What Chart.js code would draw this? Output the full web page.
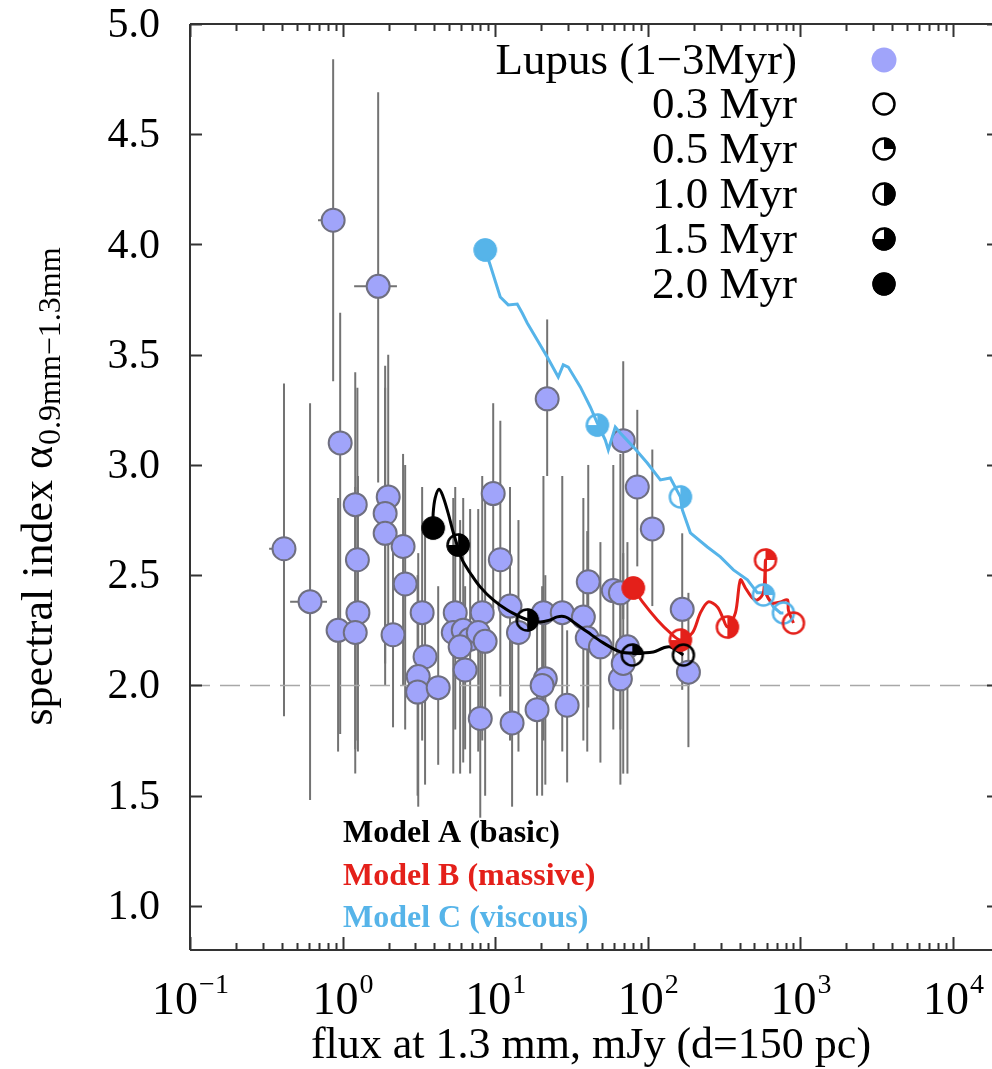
<!DOCTYPE html>
<html>
<head>
<meta charset="utf-8">
<script src="https://cdn.jsdelivr.net/npm/chart.js@4.4.1/dist/chart.umd.min.js"></script>
<style>
  html, body { margin: 0; padding: 0; background: #fff; }
  canvas { display: block; }
</style>
</head>
<body>
<canvas id="myChart" width="992" height="1069"></canvas>
<script>
'use strict';

// Lupus sample (1-3 Myr): flux at 1.3 mm in mJy, spectral index and error bar ends
let lupusFlux = [0.413, 0.612, 0.867, 1.71, 0.964, 1.21, 1.25, 1.26, 0.934, 1.21,
  1.99, 1.90, 1.90, 2.49, 2.57, 2.14, 3.32, 3.47, 3.13, 3.10,
  4.23, 5.47, 8.22, 5.31, 6.17, 6.85, 7.74, 8.59, 5.89, 6.35,
  10.8, 9.70, 7.98, 12.9, 12.5, 14.2, 20.7, 27.5, 21.3, 20.3,
  18.8, 29.6, 37.8, 40.7, 40.1, 48.9, 21.9, 69.0, 85.3, 107,
  168, 184.5, 59.4, 66.1, 66.1, 73.5, 69.0];
let lupusAlpha = [2.62, 2.38, 4.11, 3.81, 3.10, 2.82, 2.57, 2.33, 2.25, 2.24,
  2.855, 2.78, 2.69, 2.63, 2.46, 2.23, 2.33, 2.13, 2.04, 1.97,
  1.99, 2.33, 2.33, 2.24, 2.25, 2.21, 2.24, 2.20, 2.175, 2.07,
  2.57, 2.87, 1.85, 1.83, 2.36, 2.24, 2.33, 2.33, 2.03, 2.00,
  1.89, 1.91, 2.31, 2.47, 2.215, 2.175, 3.30, 3.11, 2.90, 2.71,
  2.345, 2.06, 2.43, 2.42, 2.03, 2.175, 2.10];
let lupusAlphaLo = [1.86, 1.48, 3.38, 2.92, 1.78, 1.71, 1.75, 1.70, 1.70, 1.60,
  2.20, 2.10, 2.00, 2.00, 1.80, 1.81, 1.75, 1.55, 1.45, 1.50,
  1.64, 1.80, 1.75, 1.60, 1.65, 1.60, 1.70, 1.50, 1.60, 1.71,
  1.95, 2.35, 1.40, 1.45, 1.75, 1.70, 1.75, 1.70, 1.55, 1.50,
  1.50, 1.56, 1.75, 1.90, 1.70, 1.65, 2.95, 2.30, 2.54, 2.36,
  1.98, 1.72, 1.80, 1.80, 1.55, 1.60, 1.60];
let lupusAlphaHi = [3.37, 3.28, 4.84, 4.69, 3.69, 3.42, 3.35, 2.95, 2.85, 2.90,
  3.50, 3.45, 3.35, 3.05, 3.00, 2.70, 2.90, 2.70, 2.60, 2.50,
  2.45, 2.90, 2.95, 2.85, 2.85, 2.80, 2.80, 2.90, 2.75, 2.45,
  3.20, 3.28, 2.30, 2.25, 2.90, 2.75, 2.95, 2.95, 2.50, 2.45,
  2.30, 2.25, 2.85, 3.00, 2.70, 2.65, 3.66, 3.47, 3.25, 3.07,
  2.69, 2.42, 3.00, 3.05, 2.45, 2.65, 2.60];
// horizontal error bars (only a few sources have visible ones)
let lupusFluxLo = { 0: 0.33, 1: 0.453, 2: 0.69, 3: 1.19 };
let lupusFluxHi = { 0: 0.413, 1: 0.79, 2: 0.867, 3: 2.27 };

// model tracks
let modelAFlux = [3.92, 3.92, 4.04, 4.29, 4.56, 4.92, 5.30, 5.63, 6.08, 6.86, 7.97, 9.70, 12.0, 14.6, 16.5,
  19.7, 22.9, 25.5, 28.8, 32.5, 40.1, 51.1, 66.0, 80.3, 108.7, 126, 140, 171];
let modelAAlpha = [2.72, 2.78, 2.85, 2.89, 2.855, 2.78, 2.696, 2.637, 2.569, 2.51, 2.447, 2.388, 2.342, 2.311, 2.297,
  2.288, 2.297, 2.311, 2.311, 2.288, 2.243, 2.193, 2.152, 2.147, 2.152, 2.17, 2.175, 2.138];

let modelBFlux = [80.3, 93.4, 115.4, 140.4, 163.4, 195.8, 221, 249, 285.6, 308, 332, 375, 404, 436, 484, 523,
  572, 590, 595, 655, 739, 822, 834, 900];
let modelBAlpha = [2.442, 2.374, 2.297, 2.238, 2.206, 2.238, 2.329, 2.379, 2.356, 2.311, 2.265, 2.329, 2.479, 2.442, 2.397, 2.388,
  2.42, 2.569, 2.42, 2.374, 2.379, 2.388, 2.342, 2.283];

let modelCFlux = [8.60, 9.27, 10.79, 12.17, 13.94, 15.03, 16.21, 18.86, 21.93, 25.88, 27.92, 30.11, 36.09, 41.98, 46.67,
  52.64, 55.08, 61.2, 66.0, 80.3, 99.2, 120.8, 140.4, 163.4, 168.4, 190, 245.6, 298.8, 363.7, 449.3,
  522.4, 589.6, 665.3, 739.4, 773.5];
let modelCAlpha = [3.975, 3.907, 3.762, 3.726, 3.730, 3.689, 3.644, 3.567, 3.49, 3.399, 3.454, 3.444, 3.354, 3.263, 3.19,
  3.113, 3.068, 3.172, 3.145, 3.082, 3.009, 2.932, 2.941, 2.855, 2.796, 2.692, 2.628, 2.583, 2.524, 2.479,
  2.42, 2.42, 2.356, 2.329, 2.329];

// snapshots at 0.3, 0.5, 1.0, 1.5, 2.0 Myr
let ages = ['0.3 Myr', '0.5 Myr', '1.0 Myr', '1.5 Myr', '2.0 Myr'];
let ageFill = [0, 0.25, 0.5, 0.75, 1];
let modelAAgeFlux = [171, 79.1, 16.2, 5.71, 3.92];
let modelAAgeAlpha = [2.138, 2.138, 2.297, 2.637, 2.714];
let modelBAgeFlux = [900, 590, 332, 163.4, 80.3];
let modelBAgeAlpha = [2.283, 2.569, 2.265, 2.206, 2.442];
let modelCAgeFlux = [773.5, 572, 163.4, 46.67, 8.60];
let modelCAgeAlpha = [2.329, 2.410, 2.855, 3.181, 3.975];

let xTickPowers = [-1, 0, 1, 2, 3, 4];
let yTickValues = [1.0, 1.5, 2.0, 2.5, 3.0, 3.5, 4.0, 4.5, 5.0];

const black = '#000000';
const red = '#e4201a';
const cyan = '#56b4e9';
const lupusColor = '#a0a4fa';
const serif = '"Liberation Serif", "Times New Roman", serif';

function points(xs, ys) {
  let out = [];
  for (let i = 0; i < xs.length; i++) {
    out.push({ x: xs[i], y: ys[i] });
  }
  return out;
}

function makeMarker(color, fill) {
  let c = document.createElement('canvas');
  c.width = 30;
  c.height = 30;
  let g = c.getContext('2d');
  if (fill > 0) {
    g.fillStyle = color;
    g.beginPath();
    g.moveTo(15, 15);
    g.arc(15, 15, 11.5, -Math.PI / 2, -Math.PI / 2 + fill * 2 * Math.PI);
    g.closePath();
    g.fill();
  }
  g.strokeStyle = color;
  g.lineWidth = 2.5;
  g.beginPath();
  g.arc(15, 15, 10.5, 0, 2 * Math.PI);
  g.stroke();
  return c;
}

function markerSet(color) {
  return ageFill.map(f => makeMarker(color, f));
}

const markersA = markerSet(black);
const markersB = markerSet(red);
const markersC = markerSet(cyan);

function trackDataset(xs, ys, color, width, tension) {
  return {
    data: points(xs, ys),
    showLine: true,
    borderColor: color,
    borderWidth: width,
    pointRadius: 0,
    tension: tension,
    fill: false,
    order: 2
  };
}

function ageDataset(xs, ys, markers) {
  return {
    data: points(xs, ys),
    showLine: false,
    pointStyle: markers,
    pointRadius: 12,
    order: 1
  };
}

const LUPUS = 0;

const errorBars = {
  id: 'errorBars',
  beforeDatasetDraw(chart, args) {
    if (args.index !== LUPUS) return;
    const xs = chart.scales.x;
    const ys = chart.scales.y;
    const c = chart.ctx;
    const area = chart.chartArea;
    c.save();
    c.beginPath();
    c.rect(area.left, area.top, area.right - area.left, area.bottom - area.top);
    c.clip();
    c.strokeStyle = '#737373';
    c.lineWidth = 2;
    for (let i = 0; i < lupusFlux.length; i++) {
      let px = xs.getPixelForValue(lupusFlux[i]);
      let py = ys.getPixelForValue(lupusAlpha[i]);
      c.beginPath();
      c.moveTo(px, ys.getPixelForValue(lupusAlphaLo[i]));
      c.lineTo(px, ys.getPixelForValue(lupusAlphaHi[i]));
      if (lupusFluxLo[i] !== undefined) {
        c.moveTo(xs.getPixelForValue(lupusFluxLo[i]), py);
        c.lineTo(xs.getPixelForValue(lupusFluxHi[i]), py);
      }
      c.stroke();
    }
    // reference line alpha = 2
    c.strokeStyle = '#a8a8a8';
    c.lineWidth = 1.5;
    c.setLineDash([20, 10]);
    c.beginPath();
    let y2 = ys.getPixelForValue(2.0);
    c.moveTo(area.left, y2);
    c.lineTo(area.right, y2);
    c.stroke();
    c.restore();
  }
};

const frameAndText = {
  id: 'frameAndText',
  afterDraw(chart) {
    const c = chart.ctx;
    const area = chart.chartArea;
    const xs = chart.scales.x;
    const ys = chart.scales.y;
    c.save();

    // frame
    c.strokeStyle = '#333';
    c.lineWidth = 2;
    c.beginPath();
    c.moveTo(area.left, area.top);
    c.lineTo(area.right, area.top);
    c.moveTo(area.left, area.top);
    c.lineTo(area.left, area.bottom);
    c.moveTo(area.left, area.bottom);
    c.lineTo(area.right, area.bottom);
    c.stroke();

    // x ticks, major and minor, bottom and top
    c.beginPath();
    for (let p = -1; p <= 4; p++) {
      for (let k = 1; k <= 9; k++) {
        let v = k * Math.pow(10, p);
        if (v > xs.max) break;
        let px = Math.round(xs.getPixelForValue(v)) + 0.5;
        let len = k === 1 ? 13 : 7;
        c.moveTo(px, area.bottom);
        c.lineTo(px, area.bottom - len);
        c.moveTo(px, area.top);
        c.lineTo(px, area.top + len);
      }
    }
    // y ticks, left and right
    yTickValues.forEach(v => {
      let py = Math.round(ys.getPixelForValue(v)) + 0.5;
      c.moveTo(area.left, py);
      c.lineTo(area.left + 12, py);
      c.moveTo(area.right, py);
      c.lineTo(area.right - 5, py);
    });
    c.stroke();

    c.fillStyle = '#000';

    // y tick labels
    c.font = '42px ' + serif;
    c.textAlign = 'right';
    c.textBaseline = 'middle';
    yTickValues.forEach(v => {
      c.fillText(v.toFixed(1), 160, ys.getPixelForValue(v) + 2);
    });

    // x tick labels 10^n
    c.textBaseline = 'alphabetic';
    c.textAlign = 'left';
    xTickPowers.forEach(p => {
      let px = xs.getPixelForValue(Math.pow(10, p));
      let exp = p < 0 ? '\u2212' + (-p) : String(p);
      c.font = '46px ' + serif;
      let w1 = c.measureText('10').width;
      c.font = '28px ' + serif;
      let w2 = c.measureText(exp).width;
      let sx = px - (w1 + w2) / 2;
      c.font = '46px ' + serif;
      c.fillText('10', sx, 1014);
      c.font = '28px ' + serif;
      c.fillText(exp, sx + w1 + 1, 993);
    });

    // x axis title
    c.font = '44px ' + serif;
    c.textAlign = 'center';
    c.fillText('flux at 1.3 mm, mJy (d=150 pc)', (area.left + area.right) / 2, 1058);

    // y axis title with subscript
    c.save();
    c.translate(44, (area.top + area.bottom) / 2);
    c.rotate(-Math.PI / 2);
    c.textAlign = 'left';
    c.textBaseline = 'middle';
    const mainT = 'spectral index \u03b1';
    const subT = '0.9mm\u22121.3mm';
    c.font = '44px ' + serif;
    let m1 = c.measureText(mainT).width;
    c.font = '32px ' + serif;
    let m2 = c.measureText(subT).width;
    let tx = -(m1 + m2) / 2;
    c.font = '44px ' + serif;
    c.fillText(mainT, tx, -4);
    c.font = '32px ' + serif;
    c.fillText(subT, tx + m1 + 1, 8);
    c.restore();

    // legend
    let legendLabels = ['Lupus (1\u22123Myr)'].concat(ages);
    let rowY = [60, 104, 149, 194, 239, 284];
    c.font = '45px ' + serif;
    c.textAlign = 'right';
    c.textBaseline = 'alphabetic';
    legendLabels.forEach((t, i) => {
      c.fillStyle = '#000';
      c.fillText(t, 797, rowY[i] + 14);
      if (i === 0) {
        c.fillStyle = lupusColor;
        c.beginPath();
        c.arc(884, rowY[i], 12.5, 0, 2 * Math.PI);
        c.fill();
      } else {
        c.drawImage(markersA[i - 1], 884 - 15, rowY[i] - 15);
      }
    });

    // model labels
    c.textAlign = 'left';
    c.font = 'bold 32px ' + serif;
    c.fillStyle = black;
    c.fillText('Model A (basic)', 343, 842);
    c.fillStyle = red;
    c.fillText('Model B (massive)', 343, 885);
    c.fillStyle = cyan;
    c.fillText('Model C (viscous)', 343, 927);

    c.restore();
  }
};

const ctx = document.getElementById('myChart').getContext('2d');
const myChart = new Chart(ctx, {
  type: 'scatter',
  data: {
    datasets: [
      {
        data: points(lupusFlux, lupusAlpha),
        backgroundColor: lupusColor,
        borderColor: '#6f6f80',
        borderWidth: 2,
        pointRadius: 11.5,
        order: 5
      },
      trackDataset(modelAFlux, modelAAlpha, black, 3, 0.35),
      trackDataset(modelBFlux, modelBAlpha, red, 3, 0.3),
      trackDataset(modelCFlux, modelCAlpha, cyan, 3, 0),
      ageDataset(modelAAgeFlux, modelAAgeAlpha, markersA),
      ageDataset(modelBAgeFlux, modelBAgeAlpha, markersB),
      ageDataset(modelCAgeFlux, modelCAgeAlpha, markersC)
    ]
  },
  options: {
    responsive: false,
    animation: false,
    devicePixelRatio: 1,
    layout: { autoPadding: false, padding: { top: 24, right: 0, left: 0, bottom: 0 } },
    plugins: {
      legend: { display: false },
      tooltip: { enabled: false }
    },
    scales: {
      x: {
        type: 'logarithmic',
        min: 0.1,
        max: 18000,
        grid: { display: false, drawTicks: false },
        border: { display: false },
        ticks: { display: false },
        afterFit: s => { s.height = 119; }
      },
      y: {
        min: 0.8,
        max: 5.0,
        grid: { display: false, drawTicks: false },
        border: { display: false },
        afterBuildTicks: s => { s.ticks = yTickValues.map(v => ({ value: v })); },
        ticks: { display: false },
        afterFit: s => { s.width = 190; }
      }
    }
  },
  plugins: [errorBars, frameAndText]
});
</script>
</body>
</html>
